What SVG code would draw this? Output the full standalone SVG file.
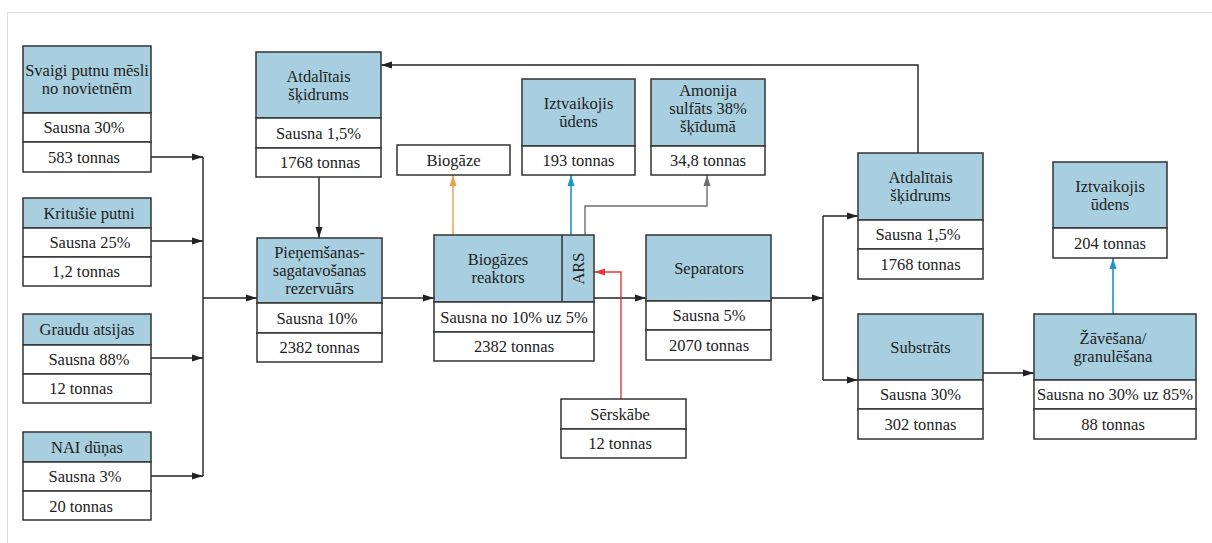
<svg xmlns="http://www.w3.org/2000/svg" width="1212" height="543" viewBox="0 0 1212 543">
  <style>
    .hd { fill: #a8cfdf; stroke: #333; stroke-width: 1.5; }
    .rw { fill: #ffffff; stroke: #333; stroke-width: 1.5; }
    .t { font-family: 'Liberation Serif', 'DejaVu Serif', serif; font-size: 16.5px; fill: #222; text-anchor: middle; }
    .ln { fill: none; stroke: #222; stroke-width: 1.4; }
    .frame { fill: none; stroke: #dcdcdc; stroke-width: 1; }
  </style>
  <defs>
    <marker id="ah-black" markerUnits="userSpaceOnUse" markerWidth="12" markerHeight="10" refX="11" refY="5" orient="auto">
      <path d="M0,1.5 L11,5 L0,8.5 Z" fill="#222"/>
    </marker>
    <marker id="ah-orange" markerUnits="userSpaceOnUse" markerWidth="12" markerHeight="10" refX="11" refY="5" orient="auto">
      <path d="M0,1.5 L11,5 L0,8.5 Z" fill="#e8a04a"/>
    </marker>
    <marker id="ah-blue" markerUnits="userSpaceOnUse" markerWidth="12" markerHeight="10" refX="11" refY="5" orient="auto">
      <path d="M0,1.5 L11,5 L0,8.5 Z" fill="#1c95cf"/>
    </marker>
    <marker id="ah-gray" markerUnits="userSpaceOnUse" markerWidth="12" markerHeight="10" refX="11" refY="5" orient="auto">
      <path d="M0,1.5 L11,5 L0,8.5 Z" fill="#6f6f6f"/>
    </marker>
    <marker id="ah-red" markerUnits="userSpaceOnUse" markerWidth="12" markerHeight="10" refX="11" refY="5" orient="auto">
      <path d="M0,1.5 L11,5 L0,8.5 Z" fill="#e03a36"/>
    </marker>
  </defs>

  <!-- page frame -->
  <path class="frame" d="M7.5,543 V12.5 H1212"/>

  <!-- connectors -->
  <g id="connectors">
    <path class="ln" d="M151,157 H203" marker-end="url(#ah-black)"/>
    <path class="ln" d="M151,241 H203" marker-end="url(#ah-black)"/>
    <path class="ln" d="M151,358 H203" marker-end="url(#ah-black)"/>
    <path class="ln" d="M151,476 H203" marker-end="url(#ah-black)"/>
    <path class="ln" d="M203,157 V476"/>
    <path class="ln" d="M203,298 H257" marker-end="url(#ah-black)"/>
    <path class="ln" d="M319,177 V238" marker-end="url(#ah-black)"/>
    <path class="ln" d="M382,298 H434" marker-end="url(#ah-black)"/>
    <path class="ln" d="M594,298 H646" marker-end="url(#ah-black)"/>
    <path class="ln" d="M771,298 H823" marker-end="url(#ah-black)"/>
    <path class="ln" d="M823,216 V380"/>
    <path class="ln" d="M823,216 H858" marker-end="url(#ah-black)"/>
    <path class="ln" d="M823,380 H858" marker-end="url(#ah-black)"/>
    <path class="ln" d="M983,373 H1034" marker-end="url(#ah-black)"/>
    <path class="ln" d="M918,153 V65 H381" marker-end="url(#ah-black)"/>
    <path fill="none" stroke="#e8a04a" stroke-width="1.4" d="M453,235 V175" marker-end="url(#ah-orange)"/>
    <path fill="none" stroke="#1c95cf" stroke-width="1.6" d="M571,235 V175" marker-end="url(#ah-blue)"/>
    <path fill="none" stroke="#6f6f6f" stroke-width="1.4" d="M585,235 V206 H707 V175" marker-end="url(#ah-gray)"/>
    <path fill="none" stroke="#e03a36" stroke-width="1.4" d="M621,399 V272 H594" marker-end="url(#ah-red)"/>
    <path fill="none" stroke="#1c95cf" stroke-width="1.6" d="M1113,314 V258" marker-end="url(#ah-blue)"/>
  </g>

  <!-- inputs -->
  <g id="n-svaigi">
    <rect class="hd" x="23" y="46" width="128" height="67"/>
    <rect class="rw" x="23" y="113" width="128" height="29"/>
    <rect class="rw" x="23" y="142" width="128" height="30"/>
    <text class="t" x="87" y="76">Svaigi putnu mēsli</text>
    <text class="t" x="87" y="94">no novietnēm</text>
    <text class="t" x="84" y="133">Sausna 30%</text>
    <text class="t" x="84" y="162.5">583 tonnas</text>
  </g>
  <g id="n-kritusie">
    <rect class="hd" x="23" y="198" width="128" height="30"/>
    <rect class="rw" x="23" y="228" width="128" height="29"/>
    <rect class="rw" x="23" y="257" width="128" height="29"/>
    <text class="t" x="89" y="219">Kritušie putni</text>
    <text class="t" x="90" y="248">Sausna 25%</text>
    <text class="t" x="86" y="277">1,2 tonnas</text>
  </g>
  <g id="n-graudu">
    <rect class="hd" x="23" y="314" width="128" height="31"/>
    <rect class="rw" x="23" y="345" width="128" height="29"/>
    <rect class="rw" x="23" y="374" width="128" height="29"/>
    <text class="t" x="87" y="335">Graudu atsijas</text>
    <text class="t" x="89" y="364.5">Sausna 88%</text>
    <text class="t" x="81" y="394">12 tonnas</text>
  </g>
  <g id="n-nai">
    <rect class="hd" x="23" y="432" width="128" height="30"/>
    <rect class="rw" x="23" y="462" width="128" height="29"/>
    <rect class="rw" x="23" y="491" width="128" height="29"/>
    <text class="t" x="87" y="453">NAI dūņas</text>
    <text class="t" x="85" y="482">Sausna 3%</text>
    <text class="t" x="81" y="511.5">20 tonnas</text>
  </g>

  <!-- main line -->
  <g id="n-atdalitais-1">
    <rect class="hd" x="256" y="52" width="125" height="66"/>
    <rect class="rw" x="256" y="118" width="125" height="30"/>
    <rect class="rw" x="256" y="148" width="125" height="29"/>
    <text class="t" x="318.5" y="81.5">Atdalītais</text>
    <text class="t" x="318.5" y="99.5">šķidrums</text>
    <text class="t" x="318.5" y="138.5">Sausna 1,5%</text>
    <text class="t" x="320" y="168">1768 tonnas</text>
  </g>
  <g id="n-pienemsanas">
    <rect class="hd" x="257" y="238" width="125" height="65"/>
    <rect class="rw" x="257" y="303" width="125" height="30"/>
    <rect class="rw" x="257" y="333" width="125" height="29"/>
    <text class="t" x="319.5" y="258">Pieņemšanas-</text>
    <text class="t" x="319.5" y="276">sagatavošanas</text>
    <text class="t" x="319.5" y="294">rezervuārs</text>
    <text class="t" x="317" y="323.5">Sausna 10%</text>
    <text class="t" x="319.5" y="353">2382 tonnas</text>
  </g>
  <g id="n-biogaze">
    <rect class="rw" x="397" y="145" width="113" height="30"/>
    <text class="t" x="453.5" y="165.5">Biogāze</text>
  </g>
  <g id="n-iztvaikojis-1">
    <rect class="hd" x="522" y="79" width="113" height="67"/>
    <rect class="rw" x="522" y="146" width="113" height="29"/>
    <text class="t" x="578.5" y="109">Iztvaikojis</text>
    <text class="t" x="578.5" y="127">ūdens</text>
    <text class="t" x="578.5" y="166">193 tonnas</text>
  </g>
  <g id="n-amonija">
    <rect class="hd" x="651" y="79" width="114" height="67"/>
    <rect class="rw" x="651" y="146" width="114" height="29"/>
    <text class="t" x="708" y="95.5">Amonija</text>
    <text class="t" x="708" y="113.5">sulfāts 38%</text>
    <text class="t" x="708" y="131.5">šķīdumā</text>
    <text class="t" x="708" y="166">34,8 tonnas</text>
  </g>
  <g id="n-reaktors">
    <rect class="hd" x="434" y="235" width="160" height="67"/>
    <line x1="562" y1="235" x2="562" y2="302" stroke="#333" stroke-width="1.5"/>
    <rect class="rw" x="434" y="302" width="160" height="30"/>
    <rect class="rw" x="434" y="332" width="160" height="29"/>
    <text class="t" x="498" y="265">Biogāzes</text>
    <text class="t" x="498" y="283">reaktors</text>
    <text class="t" transform="translate(583.5,268.5) rotate(-90)">ARS</text>
    <text class="t" x="514" y="322.5">Sausna no 10% uz 5%</text>
    <text class="t" x="514" y="351.5">2382 tonnas</text>
  </g>
  <g id="n-serskabe">
    <rect class="rw" x="561" y="399" width="125" height="30"/>
    <rect class="rw" x="561" y="429" width="125" height="29"/>
    <text class="t" x="620" y="419.5">Sērskābe</text>
    <text class="t" x="620" y="449">12 tonnas</text>
  </g>
  <g id="n-separators">
    <rect class="hd" x="646" y="235" width="125" height="66"/>
    <rect class="rw" x="646" y="301" width="125" height="29"/>
    <rect class="rw" x="646" y="330" width="125" height="30"/>
    <text class="t" x="709" y="273.5">Separators</text>
    <text class="t" x="709" y="321">Sausna 5%</text>
    <text class="t" x="709" y="350.5">2070 tonnas</text>
  </g>

  <!-- separation outputs -->
  <g id="n-atdalitais-2">
    <rect class="hd" x="858" y="153" width="125" height="67"/>
    <rect class="rw" x="858" y="220" width="125" height="29"/>
    <rect class="rw" x="858" y="249" width="125" height="30"/>
    <text class="t" x="920.5" y="183">Atdalītais</text>
    <text class="t" x="920.5" y="201">šķidrums</text>
    <text class="t" x="918" y="240">Sausna 1,5%</text>
    <text class="t" x="920.5" y="269.5">1768 tonnas</text>
  </g>
  <g id="n-substrats">
    <rect class="hd" x="858" y="314" width="125" height="66"/>
    <rect class="rw" x="858" y="380" width="125" height="29"/>
    <rect class="rw" x="858" y="409" width="125" height="30"/>
    <text class="t" x="920.5" y="352.5">Substrāts</text>
    <text class="t" x="920.5" y="400">Sausna 30%</text>
    <text class="t" x="920.5" y="429.5">302 tonnas</text>
  </g>
  <g id="n-zavesana">
    <rect class="hd" x="1034" y="314" width="162" height="66"/>
    <rect class="rw" x="1034" y="380" width="162" height="29"/>
    <rect class="rw" x="1034" y="409" width="162" height="30"/>
    <text class="t" x="1113" y="343.5">Žāvēšana/</text>
    <text class="t" x="1113" y="361.5">granulēšana</text>
    <text class="t" x="1115" y="400">Sausna no 30% uz 85%</text>
    <text class="t" x="1113" y="429.5">88 tonnas</text>
  </g>
  <g id="n-iztvaikojis-2">
    <rect class="hd" x="1053" y="162" width="114" height="66"/>
    <rect class="rw" x="1053" y="228" width="114" height="30"/>
    <text class="t" x="1110" y="191.5">Iztvaikojis</text>
    <text class="t" x="1110" y="209.5">ūdens</text>
    <text class="t" x="1110" y="248.5">204 tonnas</text>
  </g>
</svg>
